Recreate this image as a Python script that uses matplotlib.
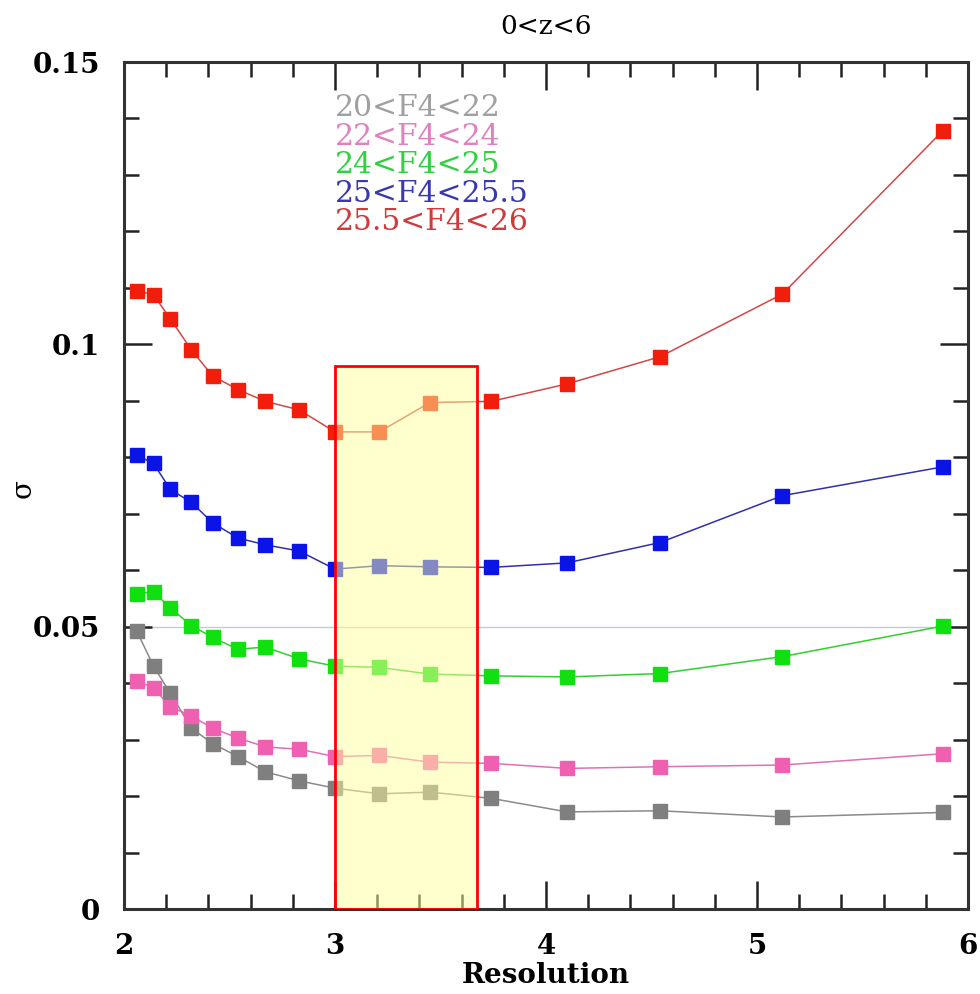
import matplotlib
matplotlib.use("Agg")
import matplotlib.pyplot as plt
from matplotlib.patches import Rectangle
from matplotlib.ticker import MultipleLocator, FixedLocator

# Данные
resolution = [2.06, 2.14, 2.22, 2.32, 2.42, 2.54, 2.67, 2.83,
              3.00, 3.21, 3.45, 3.74, 4.10, 4.54, 5.12, 5.88]

sigma_20_22 = [0.0493, 0.0430, 0.0382, 0.0320, 0.0293, 0.0270, 0.0243, 0.0227,
               0.0214, 0.0204, 0.0207, 0.0196, 0.0172, 0.0174, 0.0163, 0.0171]
sigma_22_24 = [0.0404, 0.0392, 0.0358, 0.0342, 0.0320, 0.0303, 0.0287, 0.0283,
               0.0270, 0.0272, 0.0260, 0.0258, 0.0249, 0.0252, 0.0255, 0.0275]
sigma_24_25 = [0.0558, 0.0562, 0.0533, 0.0502, 0.0481, 0.0460, 0.0464, 0.0443,
               0.0430, 0.0428, 0.0416, 0.0413, 0.0411, 0.0417, 0.0447, 0.0501]
sigma_25_255 = [0.0804, 0.0789, 0.0743, 0.0720, 0.0684, 0.0657, 0.0645, 0.0634,
                0.0602, 0.0608, 0.0606, 0.0605, 0.0613, 0.0649, 0.0732, 0.0783]
sigma_255_26 = [0.1095, 0.1088, 0.1045, 0.0990, 0.0944, 0.0920, 0.0899, 0.0884,
                0.0845, 0.0845, 0.0897, 0.0899, 0.0930, 0.0978, 0.1089, 0.1378]

labels = ["20<F4<22", "22<F4<24", "24<F4<25", "25<F4<25.5", "25.5<F4<26"]
series = [sigma_20_22, sigma_22_24, sigma_24_25, sigma_25_255, sigma_255_26]
marker_colors = ["#7f7f7f", "#f060b0", "#10e010", "#0a14e6", "#f01e0a"]
line_colors = ["#8a8a8a", "#e070b8", "#30d030", "#3030a8", "#d04848"]
text_colors = ["#a0a0a0", "#e080c0", "#30d040", "#3838b0", "#d03a3a"]

# выделенная область
box_x = [3.0, 3.675]
box_top = 0.0962
ref_level = 0.05

serif = "DejaVu Serif"

fig = plt.figure(figsize=(9.8, 9.94), dpi=100)
ax = fig.add_axes([0.1265, 0.0855, 0.8613, 0.8521])

ax.axhline(ref_level, color="#c8c8dc", lw=1.0, zorder=1)

for y, mc, lc in zip(series, marker_colors, line_colors):
    ax.plot(resolution, y, "-", color=lc, lw=1.1, zorder=2)
    ax.plot(resolution, y, "s", color=mc, ms=9.5, mec=mc, zorder=3)

rect = Rectangle((box_x[0], 0), box_x[1] - box_x[0], box_top,
                 facecolor=(1, 1, 0.62, 0.5), edgecolor="red", lw=2, zorder=4)
ax.add_patch(rect)

# легенда в виде цветного текста
for i, (lab, tc) in enumerate(zip(labels, text_colors)):
    ax.text(3.0, 0.1418 - i * 0.00505, lab, color=tc, fontsize=21.5,
            family=serif, va="center", ha="left")

ax.set_xlim(2, 6)
ax.set_ylim(0, 0.15)

ax.xaxis.set_major_locator(MultipleLocator(1))
ax.xaxis.set_minor_locator(MultipleLocator(0.2))
ax.yaxis.set_major_locator(FixedLocator([0, 0.05, 0.1, 0.15]))
ax.yaxis.set_minor_locator(MultipleLocator(0.01))
ax.set_yticklabels(["0", "0.05", "0.1", "0.15"])

ax.tick_params(which="both", direction="in", top=True, right=True,
               color="#222222", width=1.8)
ax.tick_params(which="major", length=20, labelsize=20)
ax.tick_params(axis="x", which="major", pad=17)
ax.tick_params(axis="y", which="major", pad=17)
ax.tick_params(which="minor", length=11)
for lab in ax.get_xticklabels() + ax.get_yticklabels():
    lab.set_family(serif)
    lab.set_fontweight("bold")

for sp in ax.spines.values():
    sp.set_linewidth(2.2)
    sp.set_color("#333333")

ax.set_xlabel("Resolution", fontsize=20, family=serif, fontweight="bold")
ax.xaxis.set_label_coords(0.5, -0.063)
ax.set_ylabel("σ", fontsize=20, family=serif)
ax.yaxis.set_label_coords(-0.103, 0.497)
ax.set_title("0<z<6", fontsize=19, family=serif, pad=20)

fig.savefig("out.png", dpi=100)
